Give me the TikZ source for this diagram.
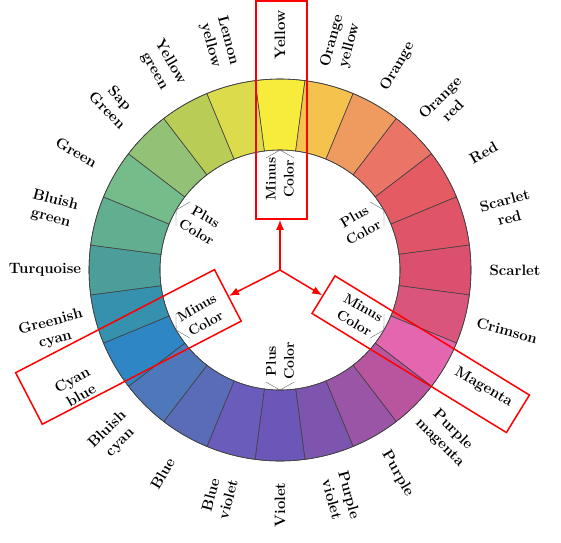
\documentclass[tikz,border=0pt]{standalone}
\usetikzlibrary{arrows.meta,calc}
\tikzset{>={Latex[length=10pt,width=8pt]}}
\definecolor{cyellow}{HTML}{F7EC3C}
\definecolor{corangeyellow}{HTML}{F5C24E}
\definecolor{corange}{HTML}{EF9A5E}
\definecolor{corangered}{HTML}{EA7465}
\definecolor{cred}{HTML}{E55B63}
\definecolor{cscarletred}{HTML}{E05468}
\definecolor{cscarlet}{HTML}{DB506E}
\definecolor{ccrimson}{HTML}{D9557C}
\definecolor{cmagenta}{HTML}{E466AE}
\definecolor{cpurplemagenta}{HTML}{B8559E}
\definecolor{cpurple}{HTML}{9A55A6}
\definecolor{cpurpleviolet}{HTML}{7D55AE}
\definecolor{cviolet}{HTML}{6C56B8}
\definecolor{cblueviolet}{HTML}{6A5CBA}
\definecolor{cblue}{HTML}{5A6BB8}
\definecolor{cbluishcyan}{HTML}{4F78BB}
\definecolor{ccyanblue}{HTML}{2E86C4}
\definecolor{cgreenishcyan}{HTML}{3691AE}
\definecolor{cturquoise}{HTML}{4C9E9A}
\definecolor{cbluishgreen}{HTML}{62AE90}
\definecolor{cgreen}{HTML}{74BC8A}
\definecolor{csapgreen}{HTML}{93C276}
\definecolor{cyellowgreen}{HTML}{B9CC55}
\definecolor{clemonyellow}{HTML}{DCDB4C}
\tikzstyle{segment}=[draw=black!75,line width=0.6pt]
\tikzstyle{colorname}=[font=\fontsize{15}{18}\selectfont\bfseries,align=center,inner sep=0pt]
\tikzstyle{pluslabel}=[font=\fontsize{14}{18}\selectfont\bfseries,align=center,inner sep=0pt]
\tikzstyle{pointer}=[draw=black!60,line width=0.4pt]
\tikzstyle{marker}=[draw=red,line width=1.5pt]

\begin{document}
\begin{tikzpicture}[x=1pt,y=1pt]
	\useasboundingbox (-280,-272) rectangle (281,270);
	\coordinate (c) at (0,0);
	
	\foreach \a/\col in {90/cyellow,75/corangeyellow,60/corange,45/corangered,30/cred,15/cscarletred,0/cscarlet,345/ccrimson,330/cmagenta,315/cpurplemagenta,300/cpurple,285/cpurpleviolet,270/cviolet,255/cblueviolet,240/cblue,225/cbluishcyan,210/ccyanblue,195/cgreenishcyan,180/cturquoise,165/cbluishgreen,150/cgreen,135/csapgreen,120/cyellowgreen,105/clemonyellow}
		\draw[segment,fill=\col] (\a-7.5:120) -- (\a-7.5:191) arc[start angle=\a-7.5,end angle=\a+7.5,radius=191] -- (\a+7.5:120) arc[start angle=\a+7.5,end angle=\a-7.5,radius=120] -- cycle;
	\draw[segment] (c) circle[radius=191] (c) circle[radius=120];
	
	\foreach \a/\r/\t in {90/90/Yellow,75/75/{Orange\\yellow},60/60/Orange,45/45/{Orange\\red},30/30/Red,15/15/{Scarlet\\red},0/0/Scarlet,345/-15/Crimson,330/-30/Magenta,315/-45/{Purple\\magenta},300/-60/Purple,285/-75/{Purple\\violet},270/90/Violet,255/75/{Blue\\violet},240/60/Blue,225/45/{Bluish\\cyan},210/30/{Cyan\\blue},195/15/{Greenish\\cyan},180/0/Turquoise,165/-15/{Bluish\\green},150/-30/Green,135/-45/{Sap\\Green},120/-60/{Yellow\\green},105/-75/{Lemon\\yellow}}
		\node[colorname,rotate=\r] (name\a) at (\a:235) {\t};
	
	\foreach \a/\r/\t in {90/90/Minus,30/30/Plus,330/-30/Minus,270/90/Plus,210/30/Minus,150/-30/Plus} {
		\node[pluslabel,rotate=\r] (inner\a) at (\a:91) {\t\\Color};
		\draw[pointer] (\a+7:113) -- (\a:120) -- (\a-7:113);
	}
	
	\node[marker,minimum width=51pt,minimum height=218pt] (yellowbox) at (1.5,160) {};
	\node[marker,minimum width=224pt,minimum height=58pt,rotate=27.4] (cyanbox) at (206.9:170) {};
	\node[marker,minimum width=228pt,minimum height=44pt,rotate=-31.5] (magentabox) at (-30.9:164) {};
	
	\draw[marker,->] (c) -- (c |- yellowbox.south);
	\draw[marker,->] (c) -- (cyanbox);
	\draw[marker,->] (c) -- (magentabox);
\end{tikzpicture}
\end{document}
